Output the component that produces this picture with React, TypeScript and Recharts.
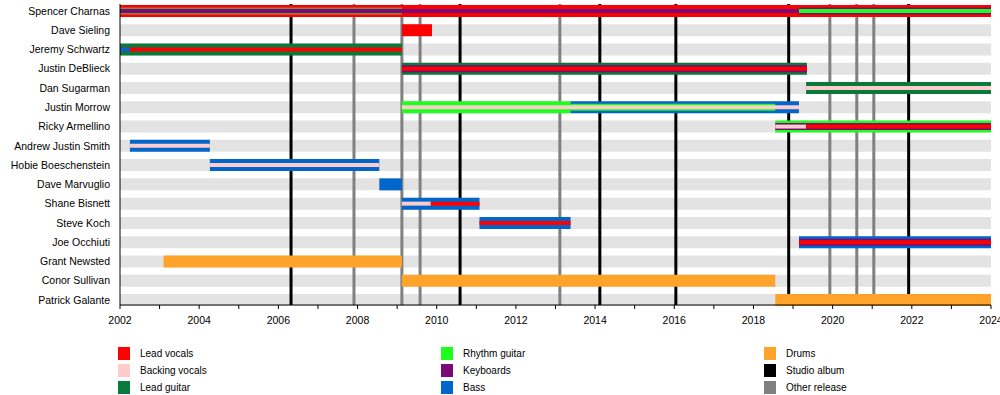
import { ComposedChart, XAxis, YAxis, ReferenceLine, Scatter } from 'recharts';

const members = [
    'Spencer Charnas',
    'Dave Sieling',
    'Jeremy Schwartz',
    'Justin DeBlieck',
    'Dan Sugarman',
    'Justin Morrow',
    'Ricky Armellino',
    'Andrew Justin Smith',
    'Hobie Boeschenstein',
    'Dave Marvuglio',
    'Shane Bisnett',
    'Steve Koch',
    'Joe Occhiuti',
    'Grant Newsted',
    'Conor Sullivan',
    'Patrick Galante',
];

const roleColors: Record<string, string> = {
    vocals: '#ff0000',
    backing: '#ffcccc',
    leadGuitar: '#0a7a3c',
    rhythm: '#1cff1c',
    keyboards: '#7a0a75',
    bass: '#0066cc',
    drums: '#ffa32a',
    studio: '#000000',
    other: '#808080',
    // early Charnas years show up as a muddy olive stripe
    olive: '#8b8a3d',
};

// [member, role, from, to] – main role, full bar
const mainRoles: [string, string, number, number][] = [
    ['Spencer Charnas', 'vocals', 2002, 2024],
    ['Dave Sieling', 'vocals', 2009.12, 2009.88],
    ['Jeremy Schwartz', 'leadGuitar', 2002, 2009.12],
    ['Justin DeBlieck', 'leadGuitar', 2009.12, 2019.35],
    ['Dan Sugarman', 'leadGuitar', 2019.33, 2024],
    ['Justin Morrow', 'rhythm', 2009.12, 2013.38],
    ['Justin Morrow', 'bass', 2013.38, 2019.15],
    ['Ricky Armellino', 'rhythm', 2018.55, 2024],
    ['Andrew Justin Smith', 'bass', 2002.25, 2004.27],
    ['Hobie Boeschenstein', 'bass', 2004.27, 2008.55],
    ['Dave Marvuglio', 'bass', 2008.55, 2009.12],
    ['Shane Bisnett', 'bass', 2009.12, 2011.08],
    ['Steve Koch', 'bass', 2011.08, 2013.38],
    ['Joe Occhiuti', 'bass', 2019.15, 2024],
    ['Grant Newsted', 'drums', 2003.1, 2009.12],
    ['Conor Sullivan', 'drums', 2009.12, 2018.55],
    ['Patrick Galante', 'drums', 2018.55, 2024],
];

// second role, medium stripe
const secondRoles: [string, string, number, number][] = [
    ['Spencer Charnas', 'olive', 2002, 2009.12],
    ['Spencer Charnas', 'keyboards', 2019.15, 2024],
    ['Justin DeBlieck', 'keyboards', 2009.12, 2019.35],
    ['Justin Morrow', 'rhythm', 2013.38, 2018.55],
    ['Ricky Armellino', 'keyboards', 2018.55, 2024],
    ['Joe Occhiuti', 'keyboards', 2019.15, 2024],
];

// third role, thin centre stripe
const thirdRoles: [string, string, number, number][] = [
    ['Spencer Charnas', 'keyboards', 2002, 2019.15],
    ['Spencer Charnas', 'rhythm', 2019.15, 2024],
    ['Jeremy Schwartz', 'vocals', 2002, 2009.12],
    ['Jeremy Schwartz', 'bass', 2002, 2002.25],
    ['Justin DeBlieck', 'vocals', 2009.12, 2019.35],
    ['Dan Sugarman', 'backing', 2019.33, 2024],
    ['Justin Morrow', 'backing', 2009.12, 2019.15],
    ['Ricky Armellino', 'backing', 2018.55, 2019.33],
    ['Ricky Armellino', 'vocals', 2019.33, 2024],
    ['Andrew Justin Smith', 'backing', 2002.25, 2004.27],
    ['Hobie Boeschenstein', 'backing', 2004.27, 2008.55],
    ['Shane Bisnett', 'backing', 2009.12, 2009.85],
    ['Shane Bisnett', 'vocals', 2009.85, 2011.08],
    ['Steve Koch', 'vocals', 2011.08, 2013.38],
    ['Joe Occhiuti', 'vocals', 2019.15, 2024],
];

const studioAlbums = [2006.32, 2010.59, 2014.12, 2016.04, 2018.89, 2021.92];
const otherReleases = [2007.91, 2009.12, 2009.58, 2013.11, 2019.93, 2020.61, 2021.04];

const years = Array.from({ length: 23 }, (_, i) => 2002 + i);
const rowTicks = members.map((_, i) => i);

const legendColumns: [string, string][][] = [
    [['vocals', 'Lead vocals'], ['backing', 'Backing vocals'], ['leadGuitar', 'Lead guitar']],
    [['rhythm', 'Rhythm guitar'], ['keyboards', 'Keyboards'], ['bass', 'Bass']],
    [['drums', 'Drums'], ['studio', 'Studio album'], ['other', 'Other release']],
];

const font = '"Liberation Sans", Arial, sans-serif';

// plain <text> so long names don't wrap
const MemberTick = ({ x, y, payload }: any) => (
    <text x={x} y={y} dy="0.35em" textAnchor="end" fontSize={10.5} fill="#000" fontFamily={font}>
        {members[payload.value]}
    </text>
);

export default function App() {
    const stripes = (rows: [string, string, number, number][], width: number, prefix: string) =>
        rows.map(([m, role, from, to], i) => {
            const y = members.indexOf(m);
            return (
                <ReferenceLine
                    key={prefix + i}
                    segment={[{ x: from, y }, { x: to, y }]}
                    stroke={roleColors[role]}
                    strokeWidth={width}
                />
            );
        });

    return (
        <div style={{ position: 'absolute', left: 0, top: 0, width: 1000, height: 395, fontFamily: font }}>
            <ComposedChart width={1000} height={395} margin={{ top: 4, right: 9, bottom: 60, left: 10 }}>
                <XAxis
                    type="number"
                    dataKey="x"
                    domain={[2002, 2024]}
                    ticks={years}
                    interval={0}
                    allowDataOverflow
                    tickFormatter={(v) => (v % 2 === 0 ? String(v) : '')}
                    tick={{ fontSize: 10.5, fill: '#000', fontFamily: font }}
                    axisLine={{ stroke: '#000' }}
                    tickLine={{ stroke: '#000' }}
                    tickSize={4}
                    tickMargin={8}
                    height={30}
                />
                <YAxis
                    type="number"
                    dataKey="y"
                    domain={[-0.36, 15.26]}
                    reversed
                    ticks={rowTicks}
                    interval={0}
                    allowDataOverflow
                    tick={<MemberTick />}
                    axisLine={{ stroke: '#000' }}
                    tickLine={false}
                    tickMargin={4}
                    width={110}
                />
                {members.map((m, i) => (
                    <ReferenceLine
                        key={'band' + m}
                        segment={[{ x: 2002, y: i }, { x: 2024, y: i }]}
                        stroke="#e3e3e3"
                        strokeWidth={12}
                    />
                ))}
                {otherReleases.map((x) => (
                    <ReferenceLine key={'o' + x} x={x} stroke={roleColors.other} strokeWidth={3} />
                ))}
                {studioAlbums.map((x) => (
                    <ReferenceLine key={'s' + x} x={x} stroke={roleColors.studio} strokeWidth={3} />
                ))}
                {stripes(mainRoles, 12, 'a')}
                {stripes(secondRoles, 7, 'b')}
                {stripes(thirdRoles, 4, 'c')}
                <Scatter
                    data={members.map((_, i) => ({ x: 2002, y: i }))}
                    fill="none"
                    stroke="none"
                    legendType="none"
                    isAnimationActive={false}
                />
            </ComposedChart>
            {legendColumns.map((col, ci) =>
                col.map(([role, label], ri) => (
                    <div
                        key={label}
                        style={{
                            position: 'absolute',
                            left: 118 + ci * 323,
                            top: 347 + ri * 17,
                            height: 13,
                            display: 'flex',
                            alignItems: 'center',
                            fontSize: 10,
                            color: '#000',
                        }}
                    >
                        <span style={{ width: 12, height: 13, background: roleColors[role], display: 'inline-block' }} />
                        <span style={{ marginLeft: 10 }}>{label}</span>
                    </div>
                ))
            )}
        </div>
    );
}
